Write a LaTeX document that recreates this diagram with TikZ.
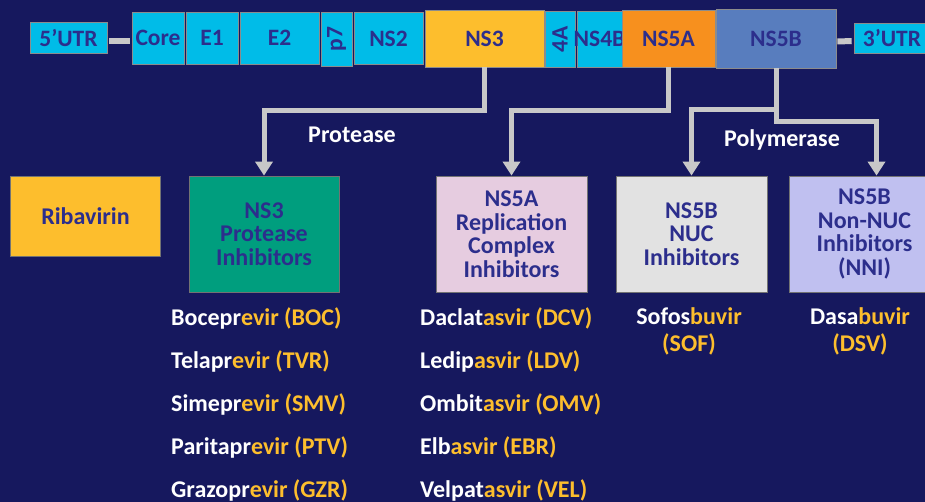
\documentclass[tikz,border=0pt]{standalone}
\usepackage{fontspec}
\setmainfont{Carlito}
\usepackage{xcolor}
\usetikzlibrary{arrows.meta, positioning}

\definecolor{bgnavy}{RGB}{22,24,94}
\definecolor{genecyan}{RGB}{0,188,232}
\definecolor{geneyellow}{RGB}{253,190,45}
\definecolor{geneorange}{RGB}{247,144,30}
\definecolor{genesteel}{RGB}{88,125,190}
\definecolor{labelblue}{RGB}{44,46,140}
\definecolor{boxgreen}{RGB}{0,158,126}
\definecolor{boxpink}{RGB}{230,204,224}
\definecolor{boxgray}{RGB}{226,226,226}
\definecolor{boxlilac}{RGB}{192,192,240}
\definecolor{linkgray}{RGB}{200,200,200}
\definecolor{drugyellow}{RGB}{253,190,45}

\tikzset{
  gene/.style={draw=black!45, line width=0.7pt, fill=genecyan, minimum height=52pt, inner sep=0pt,
    text=labelblue, font=\bfseries\fontsize{23.5}{23.5}\selectfont},
  target/.style={draw=black!55, line width=0.8pt, minimum width=151pt, minimum height=116pt, inner sep=0pt,
    align=center, text=labelblue, font=\bfseries\fontsize{24}{23.5}\selectfont},
  link/.style={draw=linkgray, line width=5pt, -{Triangle[width=17pt,length=14pt]}},
  note/.style={text=white, inner sep=0pt, font=\bfseries\fontsize{24}{24}\selectfont},
  drug/.style={text=white, inner sep=0pt, align=center, font=\bfseries\fontsize{24}{27}\selectfont}
}

\begin{document}
\begin{tikzpicture}[x=1pt, y=-1pt]
\fill[bgnavy] (0,0) rectangle (925,502);
\useasboundingbox (0,0) rectangle (925,502);
% genome
\node[gene, minimum width=77pt, minimum height=31pt] (utrfive) at (68.5,38) {5’UTR};
\node[gene, minimum width=52pt] (core) at (158,38) {Core};
\node[gene, minimum width=52pt] (eone) at (212,38) {E1};
\node[gene, minimum width=79pt] (etwo) at (279.5,38) {E2};
\node[gene, minimum width=31pt, minimum height=54pt] (pseven) at (336.5,39) {\rotatebox{90}{p7}};
\node[gene, minimum width=69pt] (nstwo) at (388.5,38.5) {NS2};
\node[gene, fill=geneyellow, minimum width=119pt, minimum height=57pt] (nsthree) at (484.5,38.5) {NS3};
\node[gene, minimum width=30pt, minimum height=56pt] (fourA) at (560,39) {\rotatebox{90}{4A}};
\node[gene, minimum width=45pt, minimum height=56pt] (nsfourB) at (599.5,39) {\makebox[0pt]{NS4B}};
\node[gene, fill=geneorange, minimum width=93pt, minimum height=57pt] (nsfiveA) at (668.5,38.5) {NS5A};
\node[gene, fill=genesteel, minimum width=120pt, minimum height=59pt] (nsfiveB) at (776,38.5) {NS5B};
\node[gene, minimum width=76pt, minimum height=30pt] (utrthree) at (892,38) {3’UTR};
\draw[linkgray, line width=6pt, shorten <=2pt, shorten >=2pt] ([yshift=-3pt]utrfive.east) -- ([yshift=-3pt]core.west);
\draw[linkgray, line width=6pt, shorten <=1pt, shorten >=2pt] ([yshift=-3pt]nsfiveB.east) -- ([yshift=-3pt]utrthree.west);
% drug classes
\node[target, fill=geneyellow, minimum width=150pt, minimum height=80pt] (ribavirin) at (85.5,216.5) {Ribavirin};
\node[target, fill=boxgreen, minimum width=150pt] (protinh) at (264,234) {NS3\\Protease\\Inhibitors};
\node[target, fill=boxpink] (replinh) at (511.5,234) {NS5A\\Replication\\Complex\\Inhibitors};
\node[target, fill=boxgray] (nucinh) at (691.5,234) {NS5B\\NUC\\Inhibitors};
\node[target, fill=boxlilac] (nniinh) at (864.5,234) {NS5B\\Non-NUC\\Inhibitors\\(NNI)};
\draw[link] (nsthree.south) -- ++(0,43) -| (protinh.north);
\draw[link] (nsfiveA.south) -- ++(0,43) -| (replinh.north);
\draw[link] (nsfiveB.south) -- ++(0,41) -| (nucinh.north);
\draw[link] (nsfiveB.south) -- ++(0,53) -| ([xshift=12pt]nniinh.north);
\node[note] (protease) at (352,135) {Protease};
\node[note] (polymerase) at (782,140) {Polymerase};
% drugs
\foreach \stem/\tail/\abbr [count=\i] in {Bocepr/evir/BOC, Telapr/evir/TVR, Simepr/evir/SMV, Paritapr/evir/PTV, Grazopr/evir/GZR}
  \node[drug, anchor=west] (prot\i) at (171,275+43*\i) {\stem\textcolor{drugyellow}{\tail{} (\abbr)}};
\foreach \stem/\tail/\abbr [count=\i] in {Daclat/asvir/DCV, Ledip/asvir/LDV, Ombit/asvir/OMV, Elb/asvir/EBR, Velpat/asvir/VEL}
  \node[drug, anchor=west] (repl\i) at (420,275+43*\i) {\stem\textcolor{drugyellow}{\tail{} (\abbr)}};
\node[drug] (sof) at (689,331) {Sofos\textcolor{drugyellow}{buvir}\\\textcolor{drugyellow}{(SOF)}};
\node[drug] (dsv) at (860,331) {Dasa\textcolor{drugyellow}{buvir}\\\textcolor{drugyellow}{(DSV)}};
\end{tikzpicture}
\end{document}
